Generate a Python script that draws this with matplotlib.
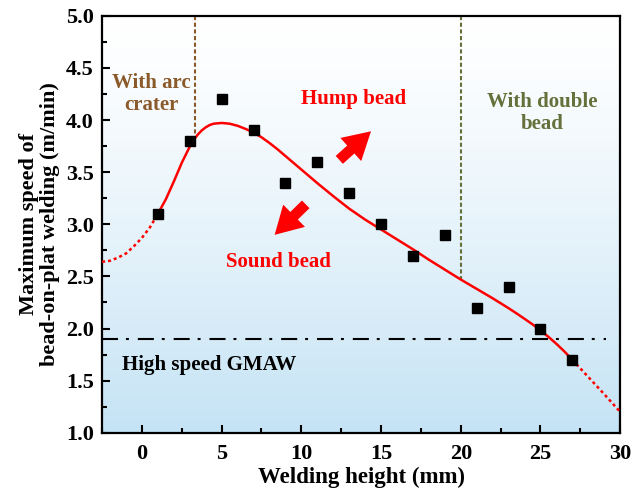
import matplotlib
matplotlib.use("Agg")
import matplotlib.pyplot as plt
import numpy as np
from matplotlib.patches import FancyArrowPatch
from matplotlib.ticker import MultipleLocator

plt.rcParams['font.family'] = ['Liberation Serif', 'DejaVu Serif']
plt.rcParams['font.weight'] = 'bold'

# measured points
height = [1, 3, 5, 7, 9, 11, 13, 15, 17, 19, 21, 23, 25, 27]
speed = [3.1, 3.8, 4.2, 3.9, 3.4, 3.6, 3.3, 3.0, 2.7, 2.9, 2.2, 2.4, 2.0, 1.7]

# fitted curve
fit_x = [-2.5, -2.0, -1.5, -1.0, -0.5, 0.0, 0.5, 1.0, 1.5, 2.0, 2.5, 3.0, 3.25, 3.5,
         3.75, 4.0, 4.25, 4.5, 5.0, 5.5, 6.0, 6.5, 7.0, 7.5, 8.0, 8.5, 9.0, 9.5,
         10.0, 10.5, 11.0, 12.0, 13.0, 14.0, 15.0, 16.0, 17.0, 18.0, 19.0, 20.0,
         21.0, 22.0, 23.0, 23.5, 24.0, 24.5, 25.0, 25.5, 26.0, 26.5, 27.0, 28.0,
         29.0, 30.0]
fit_y = [2.64, 2.65, 2.68, 2.72, 2.79, 2.87, 2.97, 3.10, 3.24, 3.41, 3.59, 3.745,
         3.81, 3.86, 3.90, 3.93, 3.952, 3.965, 3.972, 3.965, 3.945, 3.915, 3.88,
         3.835, 3.78, 3.72, 3.655, 3.59, 3.525, 3.46, 3.395, 3.27, 3.15, 3.045,
         2.95, 2.855, 2.76, 2.66, 2.565, 2.47, 2.38, 2.29, 2.195, 2.145, 2.093,
         2.04, 1.982, 1.92, 1.853, 1.78, 1.70, 1.535, 1.37, 1.20]

gmaw_speed = 1.9
crater_x, crater_y = 3.3, 3.83
double_x, double_y = 20.0, 2.47

fig, ax = plt.subplots(figsize=(6.42, 4.94), dpi=100)
fig.subplots_adjust(left=0.159, right=0.966, top=0.968, bottom=0.124)

ax.set_xlim(-2.5, 30)
ax.set_ylim(1.0, 5.0)

# background gradient, white on top to light blue at the bottom
g = np.linspace(0, 1, 256) ** 1.3
top = np.array([1.0, 1.0, 1.0])
bot = np.array([0.77, 0.89, 0.96])
grad = top[None, :] * (1 - g[:, None]) + bot[None, :] * g[:, None]
grad = grad[:, None, :]
ax.imshow(grad, extent=[0, 1, 0, 1], origin='upper', transform=ax.transAxes,
          aspect='auto', zorder=0)

# fit curve: solid over measured range, dotted outside
fx = np.array(fit_x)
fy = np.array(fit_y)
mid = (fx >= 1) & (fx <= 27)
ax.plot(fx[mid], fy[mid], color='red', lw=1.8, zorder=3, solid_joinstyle='round')
ax.plot(fx[fx <= 1], fy[fx <= 1], color='red', lw=1.8, ls=(0, (1.2, 1.2)), zorder=3)
ax.plot(fx[fx >= 27], fy[fx >= 27], color='red', lw=1.8, ls=(0, (1.2, 1.2)), zorder=3)

ax.plot(height, speed, 's', color='black', ms=7, zorder=4)

ax.plot([-2.5, 29.1], [gmaw_speed, gmaw_speed], color='black', lw=1.5,
        ls=(0, (7.7, 3.8, 1.4, 4.3)), zorder=2)

ax.plot([crater_x, crater_x], [5.0, crater_y], color='#8B5A2B', lw=1.5,
        ls=(0, (2.0, 1.2)), zorder=2)
ax.plot([double_x, double_x], [5.0, double_y], color='#66703A', lw=1.5,
        ls=(0, (2.0, 1.2)), zorder=2)

# arrows
for (x0, y0), (x1, y1) in [((12.25, 3.60), (14.5, 3.91)), ((10.4, 3.21), (8.2, 2.88))]:
    arr = FancyArrowPatch((x0, y0), (x1, y1),
                          arrowstyle='simple,head_width=1.6,head_length=1.4,tail_width=0.55',
                          mutation_scale=14, color='red', lw=0, zorder=5,
                          capstyle='round')
    ax.add_patch(arr)

fs = 15
ax.text(0.6, 4.25, 'With arc\ncrater', color='#8B5A2B', fontsize=fs,
        ha='center', va='center', fontweight='bold', linespacing=1.15)
ax.text(13.25, 4.2, 'Hump bead', color='red', fontsize=fs,
        ha='center', va='center', fontweight='bold')
ax.text(25.1, 4.07, 'With double\nbead', color='#66703A', fontsize=fs,
        ha='center', va='center', fontweight='bold', linespacing=1.15)
ax.text(8.55, 2.64, 'Sound bead', color='red', fontsize=fs,
        ha='center', va='center', fontweight='bold')
ax.text(4.2, 1.65, 'High speed GMAW', color='black', fontsize=fs,
        ha='center', va='center', fontweight='bold')

ax.xaxis.set_major_locator(MultipleLocator(5))
ax.xaxis.set_minor_locator(MultipleLocator(2.5))
ax.yaxis.set_major_locator(MultipleLocator(0.5))
ax.yaxis.set_minor_locator(MultipleLocator(0.25))
ax.tick_params(which='both', direction='in', width=1.5, labelsize=16)
ax.tick_params(which='major', length=6)
ax.tick_params(axis='x', pad=8)
ax.tick_params(axis='y', pad=6)
ax.tick_params(which='minor', length=3.5)
ax.set_xticks([0, 5, 10, 15, 20, 25, 30])
ax.set_yticks([1.0, 1.5, 2.0, 2.5, 3.0, 3.5, 4.0, 4.5, 5.0])
ax.set_yticklabels([f'{v:.1f}' for v in ax.get_yticks()])
for s in ax.spines.values():
    s.set_linewidth(1.6)

ax.set_xlabel('Welding height (mm)', fontsize=16.5, fontweight='bold', labelpad=2)
ax.set_ylabel('Maximum speed of\nbead-on-plat welding (m/min)', fontsize=16,
              fontweight='bold', linespacing=1.1, labelpad=4)

fig.savefig('out.png', dpi=100)
